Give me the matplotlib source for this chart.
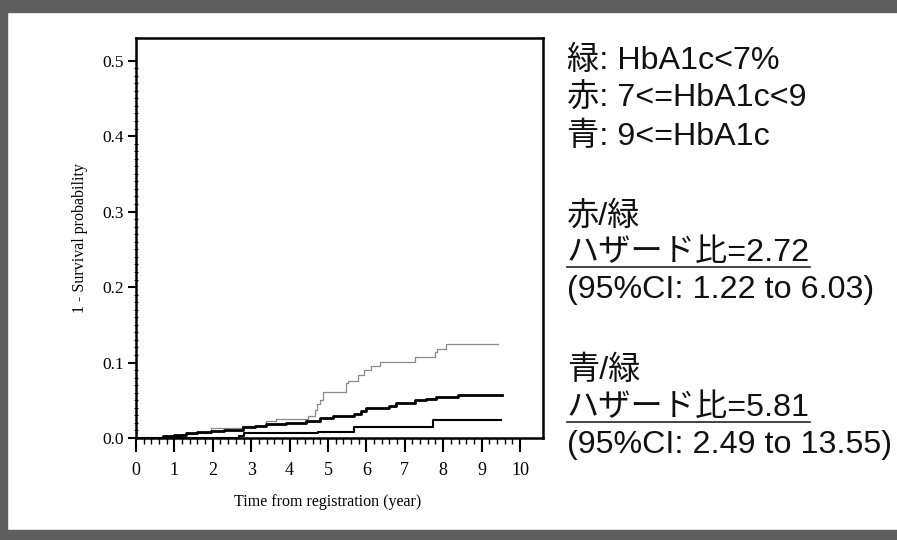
import matplotlib
matplotlib.use('Agg')
import matplotlib.pyplot as plt
from matplotlib.ticker import FixedLocator
from matplotlib.patches import Rectangle

# Kaplan-Meier style cumulative incidence (1 - survival)
t_red = [0, 0.8, 1.2, 1.5, 1.95, 2.77, 3.38, 3.65, 4.47, 4.65, 4.72, 4.8, 4.86,
         5.48, 5.53, 5.78, 5.95, 6.13, 6.35, 7.26, 7.78, 7.85, 8.08, 9.43]
y_red = [0, 0.003, 0.005, 0.007, 0.013, 0.016, 0.022, 0.025, 0.029, 0.037, 0.045,
         0.05, 0.061, 0.073, 0.076, 0.084, 0.09, 0.096, 0.101, 0.107, 0.114, 0.118,
         0.125, 0.125]

t_blue = [0, 0.7, 1.0, 1.3, 1.6, 1.95, 2.3, 2.78, 3.1, 3.38, 3.9, 4.43, 4.78, 5.12,
          5.69, 5.87, 6.0, 6.6, 6.78, 7.26, 7.56, 7.82, 8.38, 9.52]
y_blue = [0, 0.002, 0.004, 0.006, 0.008, 0.009, 0.011, 0.014, 0.016, 0.018, 0.02,
          0.022, 0.026, 0.029, 0.032, 0.036, 0.04, 0.043, 0.047, 0.05, 0.052, 0.054,
          0.057, 0.057]

t_green = [0, 2.69, 2.82, 4.73, 5.69, 7.73, 9.5]
y_green = [0, 0.003, 0.006, 0.008, 0.015, 0.024, 0.024]

x_ticks = [0, 1, 2, 3, 4, 5, 6, 7, 8, 9, 10]
y_ticks = [0.0, 0.1, 0.2, 0.3, 0.4, 0.5]

legend_lines = ['緑: HbA1c<7%', '赤: 7<=HbA1c<9', '青: 9<=HbA1c']
hr_blocks = [('赤/緑', 'ハザード比=2.72', '(95%CI: 1.22 to 6.03)'),
             ('青/緑', 'ハザード比=5.81', '(95%CI: 2.49 to 13.55)')]

W, H = 897, 540
fig = plt.figure(figsize=(W / 100, H / 100), dpi=100)
fig.patch.set_facecolor('white')

# gray scanned border (top, left, bottom)
border = '#5e5e5e'
fig.patches.append(Rectangle((0, 1 - 12 / H), 1, 12 / H, transform=fig.transFigure,
                             color=border, zorder=-1))
fig.patches.append(Rectangle((0, 0), 7 / W, 1, transform=fig.transFigure,
                             color=border, zorder=-1))
fig.patches.append(Rectangle((0, 0), 1, 10 / H, transform=fig.transFigure,
                             color=border, zorder=-1))

# axes box in pixels: left 136, right 543, top 38, bottom 438
ax = fig.add_axes([136 / W, 1 - 438 / H, (543 - 136) / W, (438 - 38) / H])
ax.set_xlim(0, 10.6)
ax.set_ylim(0, 0.53)

ax.step(t_red, y_red, where='post', color='#8a8a8a', lw=0.9, zorder=3)
ax.step(t_blue, y_blue, where='post', color='black', lw=2.0, zorder=4)
ax.step(t_green, y_green, where='post', color='black', lw=1.5, zorder=4)

serif = 'Liberation Serif'
ax.xaxis.set_major_locator(FixedLocator(x_ticks))
ax.xaxis.set_minor_locator(FixedLocator([i * 0.2 for i in range(51)]))
ax.yaxis.set_major_locator(FixedLocator(y_ticks))
ax.yaxis.set_minor_locator(FixedLocator([i * 0.01 for i in range(51)]))
ax.set_xticklabels([str(v) for v in x_ticks], family=serif, fontsize=13)
ax.set_yticklabels(['%.1f' % v for v in y_ticks], family=serif, fontsize=12.5)
ax.tick_params(axis='x', which='major', direction='out', length=10, width=1.5, pad=7)
ax.tick_params(axis='x', which='minor', direction='out', length=4, width=1.0)
ax.tick_params(axis='y', which='major', direction='out', length=6, width=1.5, pad=3)
ax.tick_params(axis='y', which='minor', direction='inout', length=3, width=0.8)
for s in ax.spines.values():
    s.set_linewidth(1.8)

ax.set_ylabel('1 - Survival probability', family=serif, fontsize=11.5, labelpad=10)
ax.set_xlabel('Time from registration (year)', family=serif, fontsize=11.5)
ax.xaxis.set_label_coords(5 / 10.6, -0.14)

# right-hand text panel
fam = ['Liberation Sans', 'Noto Sans CJK JP']
fs = 23.2
x0 = 567 / W

def put(py, s):
    return fig.text(x0, 1 - py / H, s, ha='left', va='center', family=fam,
                    fontsize=fs, color='#111111')

for i, s in enumerate(legend_lines):
    put(61 + 38 * i, s)

underlined = []
for j, (title, hr, ci) in enumerate(hr_blocks):
    base = 216 + 155 * j
    put(base, title)
    underlined.append(put(base + 37, hr))
    put(base + 74, ci)

fig.canvas.draw()
r = fig.canvas.get_renderer()
for t in underlined:
    bb = t.get_window_extent(r)
    yline = (bb.y0 + 1) / H
    fig.lines.append(plt.Line2D([bb.x0 / W, bb.x1 / W], [yline, yline],
                                transform=fig.transFigure, color='#222222', lw=1.2))

fig.savefig('out.png', dpi=100)
